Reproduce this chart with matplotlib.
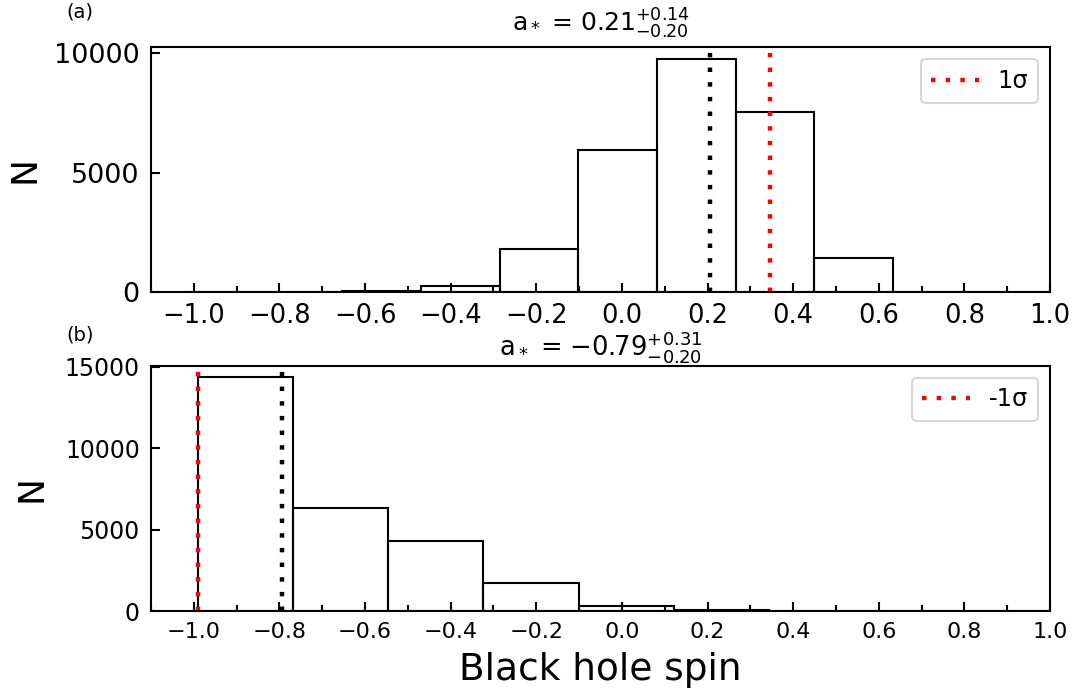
import matplotlib
matplotlib.use('Agg')
import matplotlib.pyplot as plt
import numpy as np
from matplotlib.ticker import MultipleLocator

# (a) spin posterior histogram
edges_a = np.linspace(-1.02, 1.0, 12)
counts_a = [5, 30, 70, 280, 1810, 5970, 9760, 7530, 1420, 20, 3]
best_a = 0.205
sigma_a = 0.345

# (b) spin posterior histogram
edges_b = np.linspace(-0.99, 1.01, 10)
counts_b = [14360, 6310, 4300, 1700, 280, 50, 20, 0, 0]
best_b = -0.795
sigma_b = -0.99

dots = (0, (1, 2.3))

def panel(ax, edges, counts, best, sig, lab, title, xfs, yfs, tfs, tpad):
    ax.bar(edges[:-1], counts, width=np.diff(edges), align='edge',
           fill=False, edgecolor='black', linewidth=1.5)
    ax.axvline(best, color='black', ls=dots, lw=3.2)
    ax.axvline(sig, color='red', ls=dots, lw=3.2, label=lab)

    ax.set_xlim(-1.1, 1.0)
    ax.set_ylim(0, max(counts) * 1.05)
    ax.xaxis.set_major_locator(MultipleLocator(0.2))
    ax.xaxis.set_minor_locator(MultipleLocator(0.1))
    ax.yaxis.set_major_locator(MultipleLocator(5000))
    ax.tick_params(axis='both', which='both', direction='in', width=1.5)
    ax.tick_params(axis='both', which='major', length=6.5)
    ax.tick_params(axis='both', which='minor', length=4)
    ax.tick_params(axis='x', labelsize=xfs, pad=8)
    ax.tick_params(axis='y', labelsize=yfs, pad=8)
    for s in ax.spines.values():
        s.set_linewidth(1.5)

    ax.set_ylabel('N', fontsize=26)
    ax.set_title(title, fontsize=tfs, pad=tpad)
    leg = ax.legend(loc='upper right', fontsize=17.3)
    leg.get_frame().set_linewidth(1.5)

fig = plt.figure(figsize=(10.73, 6.98), dpi=100)
ax1 = fig.add_axes([0.1407, 0.5812, 0.8379, 0.351])
ax2 = fig.add_axes([0.1407, 0.1246, 0.8379, 0.3515])

panel(ax1, edges_a, counts_a, best_a, sigma_a, '1σ',
      r'a$_*$ = 0.21$^{+0.14}_{-0.20}$', 18.5, 19.5, 18, 11)
panel(ax2, edges_b, counts_b, best_b, sigma_b, '-1σ',
      r'a$_*$ = $-$0.79$^{+0.31}_{-0.20}$', 16, 17, 18.5, 7)

ax1.yaxis.set_label_coords(-0.122, 0.5)
ax2.yaxis.set_label_coords(-0.114, 0.5)
ax2.set_xlabel('Black hole spin', fontsize=27)
ax2.xaxis.set_label_coords(0.5, -0.168)

fig.text(0.0615, 0.997, '(a)', fontsize=14, va='top')
fig.text(0.0615, 0.533, '(b)', fontsize=14, va='top')

fig.savefig('out.png', dpi=100)
